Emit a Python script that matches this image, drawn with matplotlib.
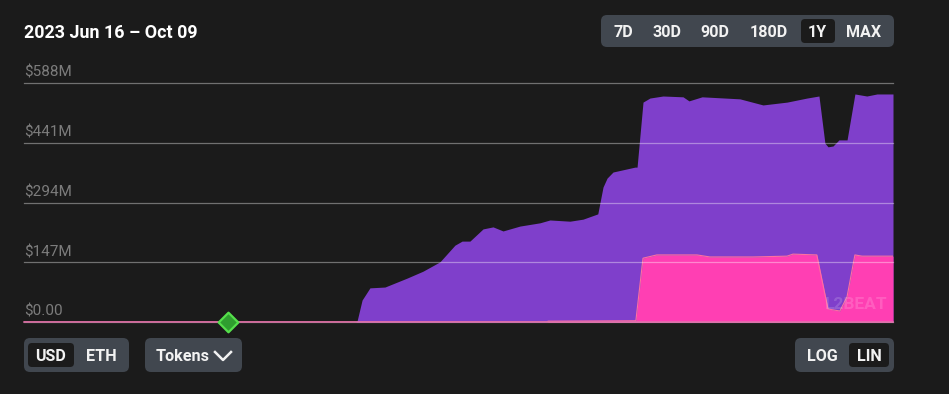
import matplotlib
matplotlib.use("Agg")
import matplotlib.pyplot as plt
from matplotlib.patches import FancyBboxPatch

plt.rcParams['font.family'] = ['Roboto', 'DejaVu Sans']

BG = '#1B1B1B'
BTN = '#41474F'
ACTIVE = '#1B1B1B'
PURPLE = '#7F3FCB'
PINK = '#FF3FB3'

title = '2023 Jun 16 – Oct 09'
y_ticks = [0, 147, 294, 441, 588]
y_labels = ['$0.00', '$147M', '$294M', '$441M', '$588M']

total_days = [0, 139.4, 139.9, 142.0, 145.3, 151.6, 160.9, 167.6, 174.7, 181, 184, 187.3, 192.8,
              197, 201.2, 208.3, 216.7, 220.9, 229.3, 234.8, 241, 243.2, 244.9, 247.4, 256.6,
              257.5, 260, 262.9, 268.4, 276.8, 279.3, 284.8, 300.7, 310.4, 320.5, 328.9, 333.9,
              336.4, 337.7, 339.8, 342.3, 345.7, 349, 354, 358.3, 365]
total_usd = [0, 0, 2.5, 54, 84, 86, 108, 125, 148, 189, 199, 199, 229,
             234, 224, 236, 244, 251, 248, 253, 266, 332, 354, 369, 381,
             381, 541, 551, 556, 554, 544, 554, 549, 534, 541, 551, 556,
             440, 431, 433, 448, 448, 561, 556, 561, 561]

token_days = [0, 220, 220.1, 257, 260, 265.8, 282.7, 288.1, 306.2, 320.5, 323, 333,
              337.7, 342.7, 345.7, 349, 352, 365]
token_usd = [0, 0, 2, 3, 157, 165, 165, 160, 160, 162, 167, 165,
             32, 27, 62, 165, 162, 162]

marker_day = [85.7]
marker_value = [0]

W, H = 949, 394
fig = plt.figure(figsize=(W / 100, H / 100), dpi=100, facecolor=BG)

# Main chart
ax = fig.add_axes([24 / W, (H - 322) / H, 869 / W, 239 / H], facecolor=BG)
ax.fill_between(total_days, total_usd, 0, color=PURPLE, lw=0, zorder=1)
ax.fill_between(token_days, token_usd, 0, color=PINK, lw=0, zorder=1.2)
ax.plot(token_days, token_usd, color='#FF6FA0', lw=0.8, zorder=1.3)
ax.set_xlim(0, 365)
ax.set_ylim(0, 588)
ax.set_xticks([])
ax.set_yticks(y_ticks, y_labels)
ax.tick_params(axis='y', length=0, pad=0, labelsize=11, labelcolor='#7C7C7C')
for lab in ax.get_yticklabels():
    lab.set_ha('left')
    lab.set_va('bottom')
    lab.set_transform(lab.get_transform() + matplotlib.transforms.ScaledTranslation(0, 2.3 / 72, fig.dpi_scale_trans))
ax.grid(axis='y', color='white', alpha=0.38, lw=0.9, zorder=2.5)
for gl in ax.get_ygridlines():
    gl.set_clip_on(False)
ax.set_axisbelow(False)
for s in ax.spines.values():
    s.set_visible(False)
ax.axhline(0, color='#E070A8', lw=1.1, clip_on=False, zorder=3)
ax.scatter(marker_day, marker_value, marker='D', s=100, facecolor='#2F9E2F', edgecolor='#55E04B',
           linewidth=1.6, clip_on=False, zorder=5)
ax.text(0.958, 0.075, 'L2BEAT', transform=ax.transAxes, ha='center', va='center', color='white',
        alpha=0.16, fontsize=12.5, fontweight='bold', zorder=4)

# Interface overlay in pixel coordinates
ui = fig.add_axes([0, 0, 1, 1], facecolor='none')
ui.set_xlim(0, W)
ui.set_ylim(H, 0)
ui.axis('off')


def box(x0, y0, x1, y1, color, r=6):
    ui.add_patch(FancyBboxPatch((x0, y0), x1 - x0, y1 - y0,
                                boxstyle=f'round,pad=0,rounding_size={r}',
                                facecolor=color, edgecolor='none'))


def label(x, y, s, size=11.6):
    ui.text(x, y, s, ha='center', va='center_baseline', color='#F2F2F2', fontsize=size, fontweight='bold')


ui.text(24, 31, title, ha='left', va='center_baseline', color='white', fontsize=12.9, fontweight='bold')

box(601, 15, 894, 47, BTN)
box(801, 19, 835, 43, ACTIVE, 4)
for x, s in zip([623, 667, 715, 769, 817, 864], ['7D', '30D', '90D', '180D', '1Y', 'MAX']):
    label(x, 31, s)

box(24, 338, 129, 372, BTN)
box(28, 343, 74, 367, ACTIVE, 4)
label(51, 355, 'USD')
label(101, 355, 'ETH')

box(145, 338, 242, 372, BTN)
label(183, 355, 'Tokens')
ui.plot([215, 223, 231], [352, 360, 352], color='#F2F2F2', lw=1.8)

box(795, 338, 894, 372, BTN)
box(849, 343, 889, 367, ACTIVE, 4)
label(822, 355, 'LOG')
label(869, 355, 'LIN')

fig.savefig('out.png', dpi=100, facecolor=BG)
